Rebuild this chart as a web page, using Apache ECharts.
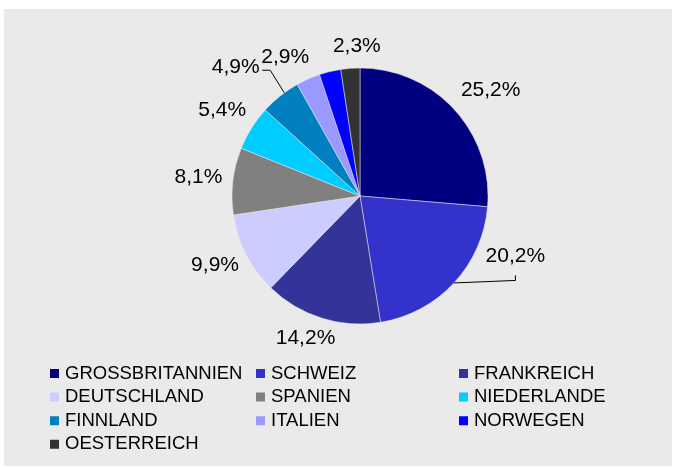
<!DOCTYPE html>
<html>
<head>
<meta charset="utf-8">
<script src="https://cdn.jsdelivr.net/npm/echarts@6/dist/echarts.min.js"></script>
<style>
  html, body { margin: 0; padding: 0; background: #fff; }
  #myChart { width: 673px; height: 468px; }
</style>
</head>
<body>
<div id="myChart"></div>
<script>
// Laender und Anteile (in %)
var laender = ['GROSSBRITANNIEN', 'SCHWEIZ', 'FRANKREICH', 'DEUTSCHLAND', 'SPANIEN',
               'NIEDERLANDE', 'FINNLAND', 'ITALIEN', 'NORWEGEN', 'OESTERREICH'];
var anteile = [25.2, 20.2, 14.2, 9.9, 8.1, 5.4, 4.9, 2.9, 2.6, 2.3];
var farben = ['#000080', '#3333cc', '#333399', '#ccccff', '#808080',
              '#00ccff', '#0080c0', '#9999ff', '#0000ff', '#333333'];
// Legende in drei Spalten
var spalte1 = ['GROSSBRITANNIEN', 'DEUTSCHLAND', 'FINNLAND', 'OESTERREICH'];
var spalte2 = ['SCHWEIZ', 'SPANIEN', 'ITALIEN'];
var spalte3 = ['FRANKREICH', 'NIEDERLANDE', 'NORWEGEN'];

var fontName = '"Liberation Sans", Arial, sans-serif';
var CX = 360, CY = 196, R = 128;
// von Hand verschobene Beschriftungen (wie im Original)
var verschoben = {
    GROSSBRITANNIEN: [9, 6],
    SCHWEIZ: [34, -52],
    FRANKREICH: [-8, -5],
    DEUTSCHLAND: [0, -5],
    FINNLAND: [-25, -4],
    ITALIEN: [-12, 3],
    OESTERREICH: [8, -2]
};

// Mittelwinkel je Segment (im Uhrzeigersinn ab 12 Uhr, Bogenmass)
var summe = anteile.reduce(function (a, b) { return a + b }, 0);
var mitte = [];
(function () {
    var acc = 0;
    anteile.forEach(function (v) {
        mitte.push((acc + v / 2) / summe * Math.PI * 2);
        acc += v;
    });
})();

function randPunkt(w) {
    return [CX + R * Math.sin(w), CY - R * Math.cos(w)];
}

function labelPos(i, w, h) {
    var s = Math.sin(mitte[i]), c = Math.cos(mitte[i]);
    var ext = Math.abs(s) * w / 2 + Math.abs(c) * h / 2;
    var d = R + 10 + ext;
    var x = CX + d * s, y = CY - d * c;
    var off = verschoben[laender[i]];
    if (off) { x += off[0]; y += off[1]; }
    return [x, y];
}

function _legend(daten, left) {
    return {
        data: daten,
        orient: 'vertical',
        left: left,
        top: 364,
        padding: 0,
        itemWidth: 11,
        itemHeight: 11,
        itemGap: 4.6,
        icon: 'rect',
        selectedMode: false,
        textStyle: {color: '#000', fontSize: 18.5, fontFamily: fontName}
    }
}

function _initChart() {
    var myChart = echarts.init(document.getElementById('myChart'));
    var data = laender.map(function (name, i) {
        var item = {name: name, value: anteile[i], itemStyle: {color: farben[i]}};
        if (name === 'NORWEGEN') item.label = {show: false};
        return item;
    });

    // Fuehrungslinien der verschobenen Beschriftungen
    var lw = 60, lh = 16;
    var iS = laender.indexOf('SCHWEIZ');
    var pS = labelPos(iS, lw, lh);
    var a0 = randPunkt(mitte[iS]);
    var linieSchweiz = [a0, [pS[0], a0[1] - 2.5], [pS[0], pS[1] + 19]];
    var iI = laender.indexOf('ITALIEN');
    var pI = labelPos(iI, 48, lh);
    var e0 = randPunkt(mitte[iI - 1] + 0.04);
    var linieItalien = [[pI[0] - 23, pI[1] + 13], [pI[0] - 15, pI[1] + 13], e0];

    var option = {
        animation: false,
        graphic: [{
            type: 'rect',
            left: 4, top: 9,
            shape: {width: 668, height: 457},
            style: {fill: '#eaeaea'},
            z: -10
        }, {
            type: 'polyline',
            shape: {points: linieSchweiz},
            style: {stroke: '#000', lineWidth: 1, fill: null},
            z: 10
        }, {
            type: 'polyline',
            shape: {points: linieItalien},
            style: {stroke: '#000', lineWidth: 1, fill: null},
            z: 10
        }],
        legend: [
            _legend(spalte1, 48),
            _legend(spalte2, 254),
            _legend(spalte3, 457)
        ],
        series: [
            {
                name: 'Anteil',
                type: 'pie',
                radius: R,
                center: [CX, CY],
                startAngle: 90,
                clockwise: true,
                avoidLabelOverlap: false,
                itemStyle: {borderColor: '#eaeaea', borderWidth: 0.5},
                label: {
                    position: 'outside',
                    color: '#000',
                    fontSize: 21,
                    fontFamily: fontName,
                    formatter: function (p) {
                        return p.value.toFixed(1).replace('.', ',') + '%';
                    }
                },
                labelLine: {show: false},
                labelLayout: function (p) {
                    var pos = labelPos(p.dataIndex, p.labelRect.width, lh);
                    return {x: pos[0], y: pos[1], align: 'center', verticalAlign: 'middle'};
                },
                data: data
            }
        ]
    };
    myChart.setOption(option);
}

_initChart();
</script>
</body>
</html>
